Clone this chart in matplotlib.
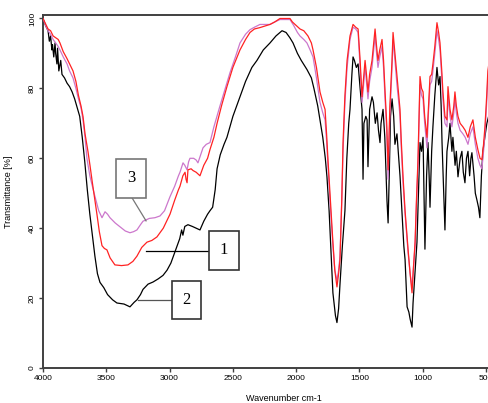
import matplotlib
matplotlib.use("Agg")
import matplotlib.pyplot as plt
from matplotlib.patches import Rectangle

# ---------------- data ----------------
wn_2 = [4000, 3980, 3960, 3950, 3940, 3930, 3925, 3915, 3905, 3900, 3890, 3885, 3875, 3870, 3860,
        3850, 3830, 3810, 3790, 3770,
        3750, 3730, 3710, 3690, 3670, 3650, 3630, 3610, 3590, 3570, 3550, 3520, 3490, 3450, 3416,
        3360, 3313, 3280, 3258, 3230, 3210, 3170, 3131, 3090, 3052, 3020, 2990, 2960, 2940, 2920,
        2905, 2895, 2880, 2855, 2820, 2790, 2760, 2730, 2700, 2681, 2660, 2640, 2625, 2600, 2570,
        2547, 2500, 2444, 2400, 2350, 2310, 2260, 2207, 2160, 2112, 2080, 2050, 2025, 1990, 1960,
        1915, 1880, 1860, 1830, 1812, 1790, 1770, 1757, 1740, 1725, 1710, 1690, 1678, 1665, 1654,
        1635, 1615, 1600, 1585, 1575, 1560, 1551, 1540, 1525, 1511, 1495, 1480, 1472, 1465, 1450,
        1440, 1433, 1420, 1401, 1390, 1375, 1361, 1350, 1338, 1330, 1314, 1300, 1290, 1283, 1274,
        1265, 1255, 1243, 1230, 1220, 1204, 1190, 1180, 1165, 1150, 1140, 1124, 1110, 1100, 1085,
        1077, 1060, 1046, 1030, 1022, 1010, 998, 983, 970, 959, 950, 943, 930, 920, 905,
        888, 875, 864, 855, 848, 835, 825, 815, 809, 795, 785, 770, 762, 745, 735,
        722, 705, 691, 680, 667, 655, 643, 630, 620, 612, 595, 585, 572, 560, 549,
        537, 525, 510, 494, 480]
t_2 = [100, 98, 96.5, 93.5, 95, 91, 92.5, 89, 93, 90, 87, 91.5, 85, 86, 88,
       84, 83, 81.5, 80.5, 79,
       77, 74.5, 72, 66, 59, 51, 44, 38, 32, 27, 24.5, 23, 21, 19.5, 18.6,
       18.3, 17.5, 18.8, 19.5, 21, 22.5, 24, 24.6, 25.5, 26.5, 28, 30, 33, 35, 37,
       39.5, 38, 40.5, 41, 40.5, 40, 39.5, 42, 44, 45, 46, 51, 57, 61, 64,
       66, 72, 77.6, 82, 86, 88, 91, 93, 95, 96.5, 96, 94.5, 93, 90, 88,
       85.4, 83, 80, 75, 71, 66, 60, 54.7, 45, 33, 21.5, 15, 13, 17, 24,
       35, 45, 60, 70, 74, 84, 89, 88, 86, 87, 80, 74, 54, 70, 72,
       71, 57.6, 74, 77.6, 76, 70, 73, 68, 64.5, 70, 74, 66, 55, 48, 41.5,
       55, 72, 77, 72, 64, 67, 60, 55, 45, 35, 31, 17.5, 16, 14, 11.7,
       18.6, 28, 36, 55, 64.5, 62, 66, 34, 55, 64.5, 55, 46, 62, 69, 78,
       86, 81, 83.4, 75, 64.5, 50, 39.5, 55, 62, 66, 70, 62, 66, 58, 62,
       54.7, 60, 62, 56, 53, 60, 62, 55, 60, 61.6, 55, 50, 48, 46, 43,
       55, 62, 66, 70, 72]

wn_1 = [4000, 3980, 3960, 3940, 3920, 3900, 3880, 3866, 3840, 3810, 3790, 3763, 3740, 3720, 3700,
        3684, 3668, 3645, 3629, 3610, 3590, 3574, 3555, 3534, 3515, 3495, 3470, 3432, 3380, 3329,
        3290, 3258, 3220, 3179, 3140, 3100, 3050, 2997, 2960, 2930, 2918, 2895, 2878, 2870, 2862,
        2855, 2830, 2815, 2790, 2760, 2730, 2700, 2681, 2650, 2625, 2590, 2547, 2500, 2444, 2400,
        2365, 2330, 2286, 2250, 2207, 2170, 2128, 2090, 2049, 2030, 2000, 1970, 1940, 1907, 1880,
        1867, 1840, 1812, 1790, 1772, 1760, 1749, 1730, 1710, 1695, 1678, 1665, 1654, 1640, 1630,
        1615, 1598, 1575, 1551, 1530, 1511, 1495, 1480, 1470, 1456, 1445, 1433, 1420, 1401, 1390,
        1377, 1365, 1354, 1340, 1322, 1310, 1298, 1285, 1274, 1260, 1243, 1235, 1220, 1204, 1190,
        1180, 1170, 1156, 1140, 1116, 1100, 1085, 1075, 1061, 1050, 1038, 1030, 1022, 1010, 998,
        985, 967, 955, 943, 930, 920, 905, 888, 875, 864, 850, 841, 825, 809, 801,
        785, 770, 755, 746, 735, 722, 705, 683, 665, 643, 625, 604, 585, 565, 548,
        533, 520, 509, 495, 486, 478]
t_1 = [100, 98.5, 97, 96.5, 95, 94.5, 94, 93, 90.5, 88.5, 87, 85, 82, 78, 75,
       72, 67, 62, 58, 53, 48, 44, 39, 35, 34.2, 33.8, 31.5, 29.5, 29.3, 29.5,
       30.5, 32, 34.5, 36, 36.5, 37.5, 40, 44, 48, 51, 52, 55, 56, 54, 53,
       56.7, 57, 56.5, 56, 55, 58, 60, 62.5, 66, 70, 75, 80.5, 86, 91, 94,
       96, 97, 97.4, 97.8, 98.3, 99, 100, 100, 100, 99, 98, 97, 96.5, 95, 93,
       91, 86, 79, 76, 74, 67, 59.6, 48, 36, 28, 23.2, 27, 31, 48, 64.5,
       78, 88, 95, 98.3, 97.5, 97, 88, 77.6, 82, 88, 84, 79, 84, 88, 92,
       97, 92, 88, 91, 94, 88, 79, 70, 56.7, 75, 88, 96, 90, 83.4, 78,
       74, 65, 54.7, 45, 33.8, 27, 21.5, 28, 36, 48, 59.6, 72, 83.4, 80, 79,
       72, 66, 75, 83.4, 84, 87, 92, 98.8, 96, 93, 85, 79, 72, 71, 80.5,
       74, 71, 75, 79, 75, 72, 70, 69, 68, 66, 69, 71, 66, 62.5, 60,
       59.6, 64, 69, 78, 85, 87]

wn_3 = [4000, 3980, 3960, 3940, 3920, 3900, 3880, 3866, 3840, 3810, 3790, 3763, 3740, 3720, 3700,
        3684, 3668, 3653, 3630, 3610, 3589, 3560, 3534, 3510, 3490, 3471, 3430, 3392, 3350, 3313,
        3285, 3258, 3230, 3210, 3160, 3116, 3076, 3040, 2997, 2960, 2930, 2918, 2894, 2880, 2862,
        2850, 2839, 2810, 2790, 2776, 2755, 2736, 2710, 2681, 2650, 2602, 2560, 2523, 2480, 2444,
        2400, 2365, 2330, 2286, 2250, 2207, 2170, 2128, 2090, 2049, 2020, 1990, 1970, 1940, 1915,
        1890, 1867, 1840, 1812, 1790, 1772, 1760, 1749, 1730, 1710, 1695, 1678, 1665, 1654, 1640,
        1630, 1615, 1598, 1575, 1551, 1530, 1511, 1495, 1480, 1470, 1456, 1445, 1433, 1420, 1401,
        1390, 1377, 1365, 1354, 1340, 1322, 1310, 1298, 1285, 1274, 1260, 1243, 1235, 1220, 1204,
        1190, 1180, 1170, 1156, 1140, 1116, 1100, 1085, 1075, 1061, 1050, 1038, 1030, 1022, 1010,
        998, 985, 967, 955, 943, 930, 920, 905, 888, 875, 864, 850, 841, 825, 809,
        801, 785, 770, 755, 746, 735, 722, 705, 683, 665, 643, 625, 604, 585, 565,
        548, 533, 520, 509, 495, 486, 478]
t_3 = [100, 98, 96.5, 95.5, 94, 93, 92, 91, 89, 87, 85, 83, 80, 77, 74.5,
       71, 66, 60, 55, 52, 49, 45, 43, 44.7, 44, 43, 41.5, 40.4, 39.2, 38.7,
       39, 39.5, 41, 42, 42.8, 43, 43.5, 45, 49, 52, 55, 56, 58.7, 58, 56.7,
       59, 60, 60, 59.5, 58.7, 61, 63, 64, 64.5, 69, 75, 80, 84.5, 89, 93,
       95.5, 96.8, 97.5, 98.3, 98.3, 98.3, 99, 99.7, 99.7, 99.7, 98, 96, 95, 94, 93,
       91, 89, 83, 76, 73, 71, 65, 58, 46, 35, 28, 25, 28, 32, 48,
       62, 76, 86, 94, 97.5, 97, 96, 86, 76, 80, 86, 82, 77, 82, 86,
       90, 95, 90, 86, 89, 92, 86, 77, 68, 54, 72, 86, 94, 88, 81,
       76, 72, 63, 53, 44, 33, 27, 23, 28, 35, 47, 58, 70, 81, 78,
       77, 70, 63, 73, 81, 82, 85, 90, 96.5, 94, 91, 83, 77, 70, 69,
       78, 72, 69, 73, 77, 73, 70, 68, 67, 66, 64, 67, 69, 64, 60,
       58, 57, 62, 67, 76, 83, 85]

x_ticks = [4000, 3500, 3000, 2500, 2000, 1500, 1000, 500]
y_ticks = [0, 20, 40, 60, 80, 100]

# ---------------- figure ----------------
fig = plt.figure(figsize=(4.89, 4.03), dpi=100)
ax = fig.add_axes([43 / 489, 35 / 403, 1 - 43 / 489, (368 - 15) / 403])

ax.plot(wn_2, t_2, color="black", lw=0.9, zorder=3)
ax.plot(wn_3, t_3, color="#cc77cc", lw=0.9, zorder=4)
ax.plot(wn_1, t_1, color="#ff2222", lw=0.9, zorder=5)

ax.set_xlim(4000, 477)
ax.set_ylim(0, 101)
ax.set_xticks(x_ticks)
ax.set_yticks(y_ticks)

for s in ["top", "left", "bottom"]:
    ax.spines[s].set_color("#404040")
    ax.spines[s].set_linewidth(1.4)
ax.spines["right"].set_visible(False)

ax.tick_params(axis="both", direction="out", length=3, width=1, color="#404040",
               labelsize=6, pad=2)
for lab in ax.get_xticklabels():
    lab.set_fontfamily("Liberation Sans")
for lab in ax.get_yticklabels():
    lab.set_fontfamily("Liberation Sans")
    lab.set_rotation(90)
    lab.set_va("center")

ax.set_ylabel("Transmittance [%]", fontsize=6.5, family="Liberation Sans")
ax.yaxis.set_label_coords(-0.068, 0.5)
ax.set_xlabel("Wavenumber cm-1", fontsize=6.5, family="Liberation Sans")
ax.xaxis.set_label_coords(0.54, -0.075)

# ---------------- annotation boxes ----------------
def box(x0, x1, y0, y1, label, ec):
    r = Rectangle((x1, y0), x0 - x1, y1 - y0, fill=True, fc="white", ec=ec, lw=1.2, zorder=7)
    ax.add_patch(r)
    ax.text((x0 + x1) / 2, (y0 + y1) / 2, label, ha="center", va="center",
            fontsize=12, family="Liberation Serif", zorder=8)

box(3423, 3186, 48.7, 59.9, "3", "#777777")
box(2689, 2452, 28.1, 39.3, "1", "#333333")
box(2981, 2752, 14.0, 24.9, "2", "#333333")

ax.plot([3297, 3186], [48.7, 42.1], color="#777777", lw=0.9, zorder=6)
ax.plot([3186, 2689], [33.5, 33.5], color="black", lw=0.9, zorder=6)
ax.plot([3250, 2981], [19.5, 19.5], color="#555555", lw=0.9, zorder=6)

fig.savefig("out.png", dpi=100)
